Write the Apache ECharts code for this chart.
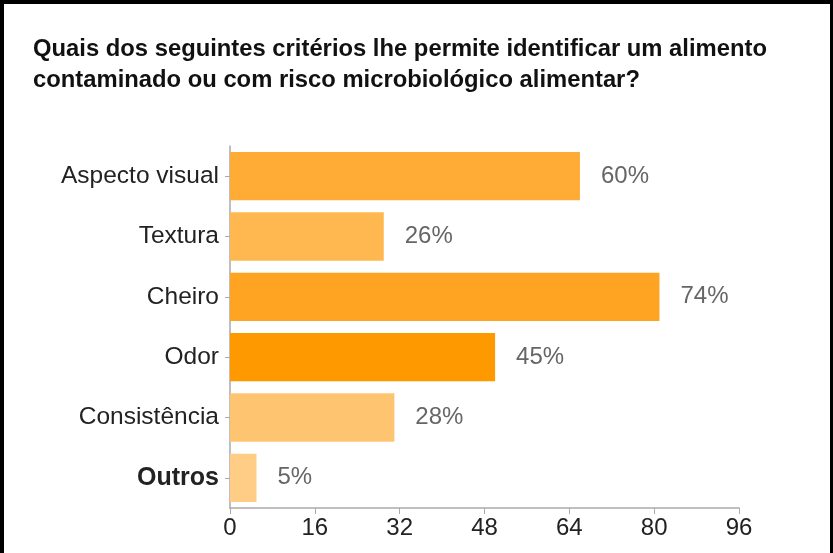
<!DOCTYPE html>
<html>
<head>
<meta charset="utf-8">
<script src="https://cdn.jsdelivr.net/npm/echarts@6/dist/echarts.min.js"></script>
<style>
  html, body { margin: 0; padding: 0; background: #fff; }
  #frame {
    position: absolute; left: 0; top: 0;
    width: 826px; height: 560px;
    border-left: 4px solid #000; border-top: 4px solid #000; border-right: 3px solid #000;
  }
  #main { position: absolute; left: 0; top: 0; width: 833px; height: 553px; }
</style>
</head>
<body>
<div id="frame"></div>
<div id="main"></div>
<script>
// categorias e respostas (n = 110)
var categories = ['Aspecto visual', 'Textura', 'Cheiro', 'Odor', 'Consistência', 'Outros'];
var counts = [66, 29, 81, 50, 31, 5];
var percentLabels = ['60%', '26%', '74%', '45%', '28%', '5%'];
var xTicks = [0, 16, 32, 48, 64, 80, 96];

var barColors = ['#FFAC37', '#FFB850', '#FFA322', '#FF9900', '#FFC470', '#FFCD86'];

var chart = echarts.init(document.getElementById('main'), null, { renderer: 'canvas' });

var option = {
  backgroundColor: 'transparent',
  animation: false,
  title: {
    text: 'Quais dos seguintes critérios lhe permite identificar um alimento\ncontaminado ou com risco microbiológico alimentar?',
    left: 28,
    top: 29,
    textStyle: {
      fontFamily: 'Liberation Sans',
      fontWeight: 'bold',
      fontSize: 23.8,
      lineHeight: 31,
      color: '#111'
    }
  },
  grid: {
    left: 230,
    top: 146,
    width: 509,
    height: 362
  },
  xAxis: {
    type: 'value',
    min: xTicks[0],
    max: xTicks[xTicks.length - 1],
    interval: 16,
    axisLine: { show: true, lineStyle: { color: '#aaa', width: 1.5 } },
    axisTick: { show: true, length: 6, lineStyle: { color: '#aaa' } },
    splitLine: { show: false },
    axisLabel: {
      margin: 8,
      fontFamily: 'Liberation Sans',
      fontSize: 24,
      color: '#222'
    }
  },
  yAxis: {
    type: 'category',
    data: categories,
    inverse: true,
    axisLine: { show: true, lineStyle: { color: '#aaa', width: 1.5 } },
    axisTick: { show: true, length: 5, alignWithLabel: true, lineStyle: { color: '#aaa' } },
    axisLabel: {
      margin: 11,
      fontFamily: 'Liberation Sans',
      fontSize: 24.5,
      color: '#222',
      formatter: function (v) {
        return v === 'Outros' ? '{b|' + v + '}' : v;
      },
      rich: {
        b: { fontFamily: 'Liberation Sans', fontSize: 25, fontWeight: 'bold', color: '#222' }
      }
    }
  },
  series: [{
    type: 'bar',
    barCategoryGap: '20%',
    data: counts.map(function (v, i) {
      return { value: v, itemStyle: { color: barColors[i] } };
    }),
    label: {
      show: true,
      position: 'right',
      distance: 21,
      fontFamily: 'Liberation Sans',
      fontSize: 24,
      color: '#666',
      formatter: function (p) { return percentLabels[p.dataIndex]; }
    }
  }]
};

chart.setOption(option);
</script>
</body>
</html>
